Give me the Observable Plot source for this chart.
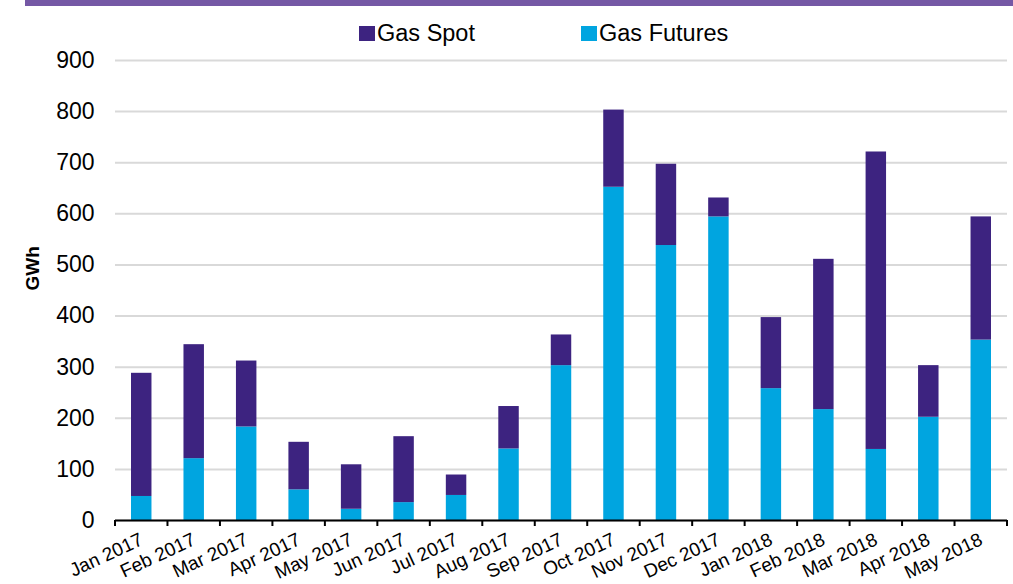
<!DOCTYPE html>
<html>
<head>
<meta charset="utf-8">
<script src="https://cdn.jsdelivr.net/npm/d3@7"></script>
<script src="https://cdn.jsdelivr.net/npm/@observablehq/plot@0.6"></script>
<style>
  html, body { margin: 0; padding: 0; background: #fff; }
  #wrap { position: relative; width: 1013px; height: 584px; overflow: hidden; font-family: "Liberation Sans", Arial, sans-serif; }
  #topbar { position: absolute; left: 25px; top: 0; width: 988px; height: 6px; background: #7558A5; }
  .leg { position: absolute; top: 19px; font-size: 23.5px; line-height: 28px; color: #000; display: flex; align-items: center; }
  .sw { width: 16px; height: 15px; margin-right: 2px; }
  #chart { position: absolute; left: 0; top: 0; }
</style>
</head>
<body>
<div id="wrap">
  <div id="topbar"></div>
  <div class="leg" style="left:359px"><div class="sw" style="background:#3D2380"></div>Gas Spot</div>
  <div class="leg" style="left:581px"><div class="sw" style="background:#00A5E0"></div>Gas Futures</div>
  <div id="chart"></div>
</div>
<script>
const months = ["Jan 2017","Feb 2017","Mar 2017","Apr 2017","May 2017","Jun 2017","Jul 2017","Aug 2017","Sep 2017","Oct 2017","Nov 2017","Dec 2017","Jan 2018","Feb 2018","Mar 2018","Apr 2018","May 2018"];
const gasFutures = [47,121,183,60,22,35,49,140,303,652,538,594,258,217,139,202,353];
const gasSpot = [241,223,129,93,87,129,40,83,60,151,159,37,139,294,582,101,241];
const seriesNames = ["Gas Futures","Gas Spot"];
const seriesColors = ["#00A5E0","#3D2380"];
const yTicks = [0,100,200,300,400,500,600,700,800,900];

const rows = [];
months.forEach((m, i) => {
  rows.push({month: m, series: "Gas Futures", value: gasFutures[i]});
  rows.push({month: m, series: "Gas Spot", value: gasSpot[i]});
});

const boundaryTicks = (index, scales, values, dimensions) => {
  const {width, height, marginLeft, marginRight, marginBottom} = dimensions;
  const n = months.length;
  const step = (width - marginLeft - marginRight) / n;
  const g = d3.create("svg:g").attr("stroke", "#000").attr("stroke-width", 2);
  for (let i = 0; i <= n; i++) {
    const x = marginLeft + i * step;
    g.append("line").attr("x1", x).attr("x2", x)
      .attr("y1", height - marginBottom).attr("y2", height - marginBottom + 6);
  }
  return g.node();
};

const chart = Plot.plot({
  width: 1013,
  height: 584,
  marginTop: 60,
  marginBottom: 64,
  marginLeft: 115,
  marginRight: 6,
  style: {fontFamily: "Liberation Sans, Arial, sans-serif", color: "#000", background: "transparent"},
  x: {domain: months, paddingInner: 0.61, paddingOuter: 0.305, round: false, label: null},
  y: {domain: [0, 900], label: null},
  color: {domain: seriesNames, range: seriesColors},
  marks: [
    Plot.gridY(yTicks, {stroke: "#d9d9d9", strokeOpacity: 1, strokeWidth: 2}),
    Plot.axisY(yTicks, {tickSize: 0, tickPadding: 21, fontSize: 23, label: null}),
    Plot.text(["GWh"], {frameAnchor: "left", dx: -83, rotate: -90, fontWeight: "bold", fontSize: 19}),
    Plot.barY(rows, Plot.stackY({order: seriesNames}, {x: "month", y: "value", fill: "series"})),
    Plot.axisX({tickSize: 0, tickRotate: -25, fontSize: 19, tickPadding: 18, label: null}),
    Plot.ruleY([0], {stroke: "#000", strokeWidth: 2}),
    boundaryTicks
  ]
});
document.getElementById("chart").appendChild(chart);
</script>
</body>
</html>
